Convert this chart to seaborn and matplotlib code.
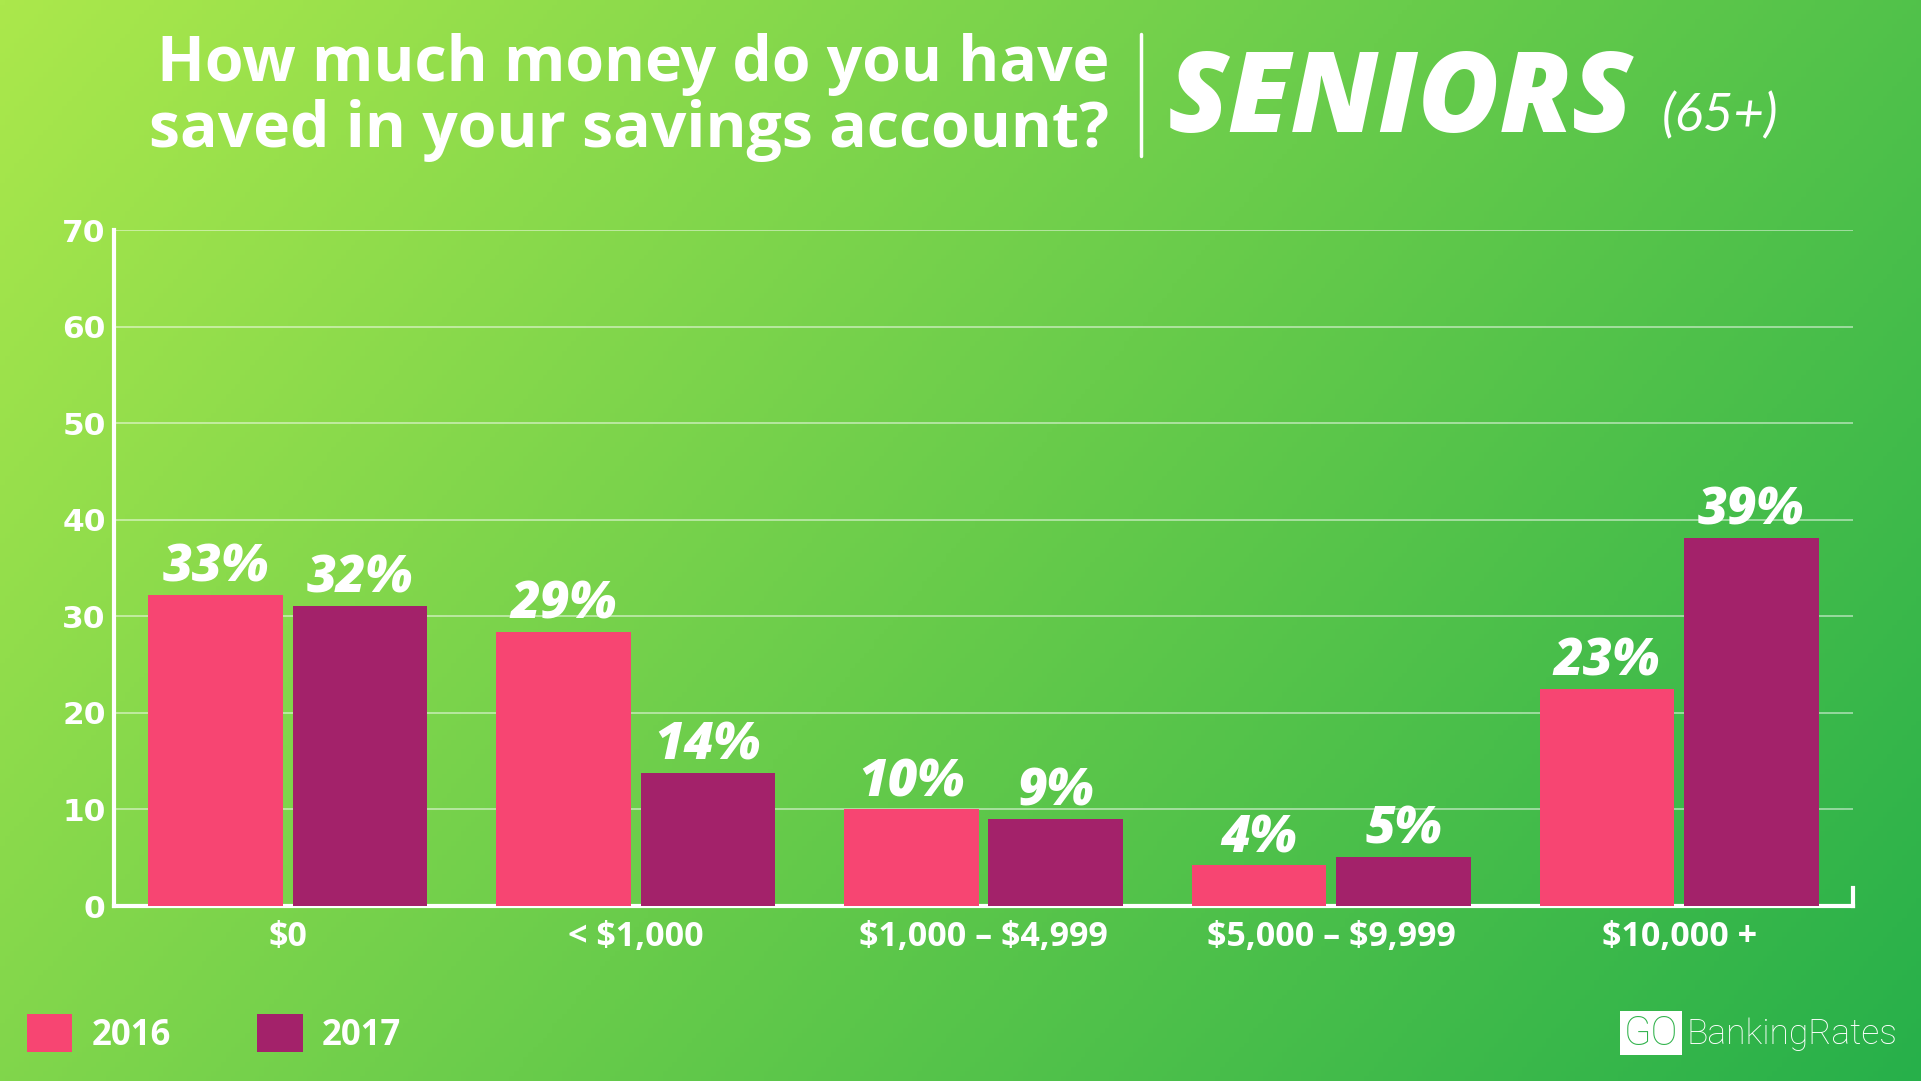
import matplotlib
matplotlib.use("Agg")
import matplotlib.pyplot as plt
import matplotlib.colors as mcolors
from matplotlib.patches import Rectangle, Patch
import numpy as np
import pandas as pd
import seaborn as sns

# Data
brackets = ["$0", "< $1,000", "$1,000 – $4,999", "$5,000 – $9,999", "$10,000 +"]
years = ["2016", "2017"]
# bar heights as drawn in the graphic
heights_2016 = [32.2, 28.4, 10.0, 4.2, 22.5]
heights_2017 = [31.1, 13.8, 9.0, 5.1, 38.1]
# printed labels
labels_2016 = [33, 29, 10, 4, 23]
labels_2017 = [32, 14, 9, 5, 39]
y_ticks = [0, 10, 20, 30, 40, 50, 60, 70]

colors = {"2016": "#f74572", "2017": "#a3226a"}

df = pd.DataFrame({
    "bracket": brackets * 2,
    "year": ["2016"] * len(brackets) + ["2017"] * len(brackets),
    "share": heights_2016 + heights_2017,
})

sns.set_theme(style="white")
plt.rcParams["font.family"] = ["Open Sans", "DejaVu Sans"]
plt.rcParams["text.parse_math"] = False

W, H = 1921, 1081
fig = plt.figure(figsize=(W / 100, H / 100), dpi=100)

# gradient background
bg = fig.add_axes([0, 0, 1, 1], zorder=-10)
xx, yy = np.meshgrid(np.linspace(0, 1, 400), np.linspace(0, 1, 225))
t = 0.68 * xx + 0.32 * yy
c0 = np.array(mcolors.to_rgb("#abe84c"))
c1 = np.array(mcolors.to_rgb("#27b04a"))
img = c0[None, None, :] * (1 - t[..., None]) + c1[None, None, :] * t[..., None]
bg.imshow(img, aspect="auto", extent=[0, 1, 0, 1], origin="upper")
bg.set_axis_off()

ax = fig.add_axes([114 / W, 1 - 906 / H, (1853 - 114) / W, (906 - 230) / H])
ax.set_facecolor("none")

sns.barplot(data=df, x="bracket", y="share", hue="year", palette=colors,
            width=0.83, gap=0.067, saturation=1, legend=False, ax=ax,
            linewidth=0, edgecolor="none", zorder=3)

for cont, labs in zip(ax.containers, [labels_2016, labels_2017]):
    ax.bar_label(cont, labels=[f"{v}%" for v in labs], padding=1,
                 color="white", fontsize=37, fontweight=800, fontstyle="italic",
                 zorder=4)

ax.set_xlim(-0.5, 4.5)
ax.set_ylim(0, 70)
ax.set_yticks(y_ticks)
ax.set_yticklabels([str(v) for v in y_ticks], family="DejaVu Sans",
                   fontweight="bold", fontsize=22.5, color="white")
ax.tick_params(axis="y", length=0, pad=6)
ax.set_xticks(range(len(brackets)))
ax.set_xticklabels(brackets, fontweight="bold", fontsize=24.5, color="white")
ax.tick_params(axis="x", length=0, pad=10)
ax.set_xlabel("")
ax.set_ylabel("")

ax.yaxis.grid(True, color="white", alpha=0.55, linewidth=1.2, zorder=0)
ax.xaxis.grid(False)
ax.set_axisbelow(True)
for side in ["left", "bottom", "right"]:
    ax.spines[side].set_color("white")
    ax.spines[side].set_linewidth(3)
ax.spines["top"].set_visible(False)
ax.spines["right"].set_bounds(0, 1.9)

# title block
fig.text(1109 / W, 1 - 81 / H, "How much money do you have", ha="right", va="baseline",
         fontsize=45, fontweight="bold", color="white")
fig.text(1109 / W, 1 - 147 / H, "saved in your savings account?", ha="right", va="baseline",
         fontsize=45, fontweight="bold", color="white")
fig.add_artist(plt.Line2D([1141 / W, 1141 / W], [1 - 34 / H, 1 - 156 / H],
                          color="white", linewidth=2.5))
fig.text(1168 / W, 1 - 132 / H, "SENIORS", ha="left", va="baseline",
         fontsize=80, fontweight=800, fontstyle="italic", color="white")
fig.text(1662 / W, 1 - 131 / H, "(65+)", ha="left", va="baseline", family="Lato",
         fontsize=38, fontweight="normal", fontstyle="italic", color="white")

# legend
handles = [Patch(facecolor=colors[y], edgecolor="none") for y in years]
fig.legend(handles, years, loc="center left", bbox_to_anchor=(27 / W, 1 - 1034 / H),
           ncol=2, frameon=False, borderpad=0, borderaxespad=0,
           handlelength=1.3, handleheight=1.3, handletextpad=0.55, columnspacing=2.5,
           prop={"family": "Open Sans", "weight": "bold", "size": 25}, labelcolor="white")

# logo
fig.add_artist(Rectangle((1620 / W, 1 - 1055 / H), 62 / W, 44 / H,
                         transform=fig.transFigure, facecolor="white", edgecolor="none"))
fig.text(1651 / W, 1 - 1034 / H, "GO", ha="center", va="center", family="Roboto",
         fontsize=29, fontweight="light", color="#2fb24a")
fig.text(1687 / W, 1 - 1034 / H, "BankingRates", ha="left", va="center", family="Roboto",
         fontsize=25.5, fontweight="light", color="white")

fig.savefig("out.png", dpi=100)
